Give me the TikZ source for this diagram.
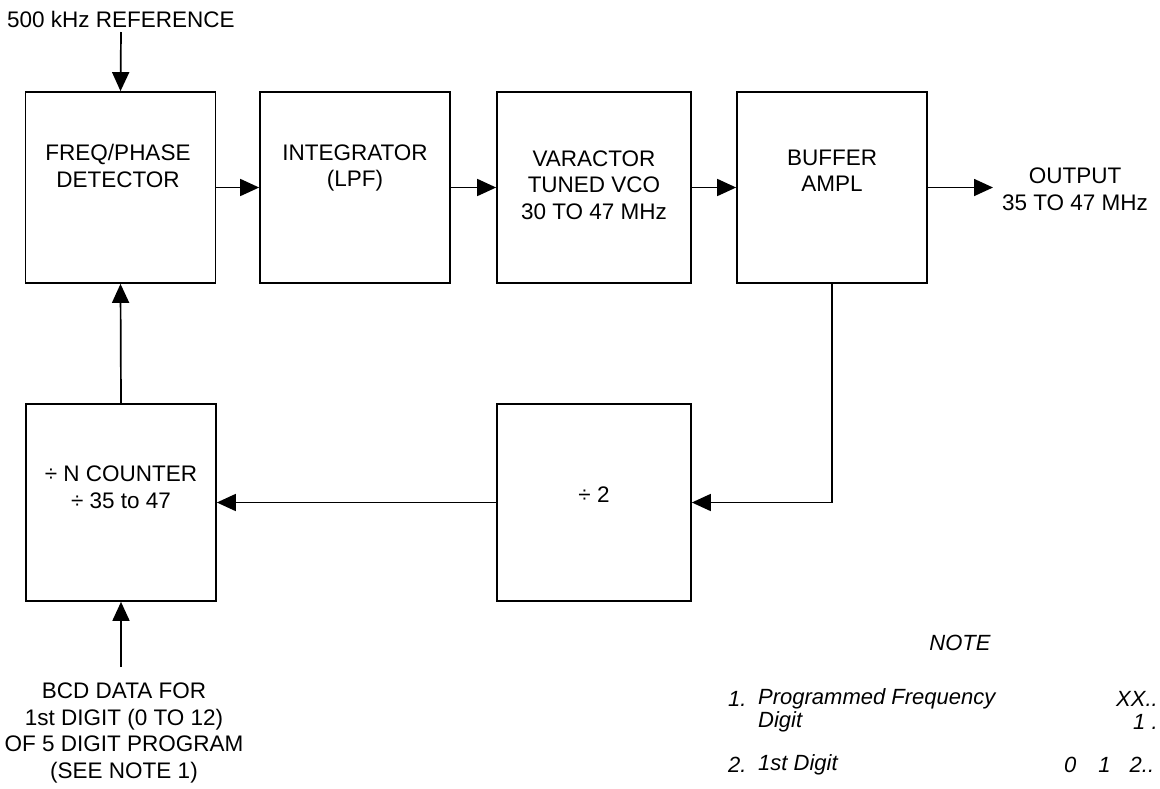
\documentclass[tikz,border=0pt]{standalone}
\usepackage{fontspec}
\setmainfont{Liberation Sans}
\usetikzlibrary{arrows.meta,positioning,calc}
\tikzset{
  blk/.style={draw, line width=1.7pt, minimum width=190pt, inner sep=0pt},
  arr/.style={line width=1.7pt, -{Triangle[length=19pt,width=17pt]}},
  lbl/.style={align=center, inner sep=0pt, font=\fontsize{22.5}{26.5}\selectfont},
  note/.style={anchor=west, inner sep=0pt, font=\fontsize{22}{23}\selectfont\itshape}
}
\begin{document}
\begin{tikzpicture}[x=1pt,y=-1pt]
\useasboundingbox (0,0) rectangle (1160,788);
\clip (0,0) rectangle (1160,788);
% blocks
\node[blk, minimum height=191pt] (b1) at (120.5,187.5) {};
\node[blk, minimum height=191pt] (b2) at (355,187.5) {};
\node[blk, minimum height=191pt, minimum width=194pt] (b3) at (594,187.5) {};
\node[blk, minimum height=191pt] (b4) at (832,187.5) {};
\node[blk, minimum height=197pt] (cnt) at (121,502.5) {};
\node[blk, minimum height=197pt, minimum width=194pt] (d2) at (594,502.5) {};
% block texts
\node[lbl] (t1) at (118,166) {FREQ/PHASE\\DETECTOR};
\node[lbl] (t2) at (355,168) {INTEGRATOR\\(LPF)};
\node[lbl] (t3) at (594,185) {VARACTOR\\TUNED VCO\\30 TO 47 MHz};
\node[lbl] (t4) at (832,171) {BUFFER\\AMPL};
\node[lbl] (t5) at (121,487) {÷ N COUNTER\\÷ 35 to 47};
\node[lbl] (t6) at (594,495) {÷ 2};
% outer labels
\node[lbl] (ref) at (121,19) {500 kHz REFERENCE};
\node[lbl] (outl) at (1075,189) {OUTPUT\\35 TO 47 MHz};
\node[lbl, font=\fontsize{22.5}{26.7}\selectfont] (bcdl) at (124,733) {BCD DATA FOR\\1st DIGIT (0 TO 12)\\OF 5 DIGIT PROGRAM\\(SEE NOTE 1)};
% connector ends
\coordinate (refin) at (121,32);
\coordinate (out) at (993,187.5);
\coordinate (bcd) at (121,667);
% connectors
\draw[arr] (refin) -- (b1.north);
\draw[arr] (b1.east) -- (b2.west);
\draw[arr] (b2.east) -- (b3.west);
\draw[arr] (b3.east) -- (b4.west);
\draw[arr] (b4.east) -- (out);
\draw[arr] (b4.south) |- (d2.east);
\draw[arr] (d2.west) -- (cnt.east);
\draw[arr] (cnt.north) -- (b1.south);
\draw[arr] (bcd) -- (cnt.south);
% note
\node[lbl, font=\fontsize{22}{23}\selectfont\itshape] (notet) at (960,643) {NOTE};
\node[note] (n1) at (728,699) {1.};
\node[note] (n1a) at (758,699) {Programmed Frequency};
\node[note] (n1b) at (758,722) {Digit};
\node[note] (n1c) at (1116,699) {XX..};
\node[note] (n1d) at (1133,722) {1 .};
\node[note] (n2) at (728,765) {2.};
\node[note] (n2a) at (758,765) {1st Digit};
\node[note] (n2b) at (1064,765) {0\hspace{22pt}1\hspace{19pt}2..};
\end{tikzpicture}
\end{document}
